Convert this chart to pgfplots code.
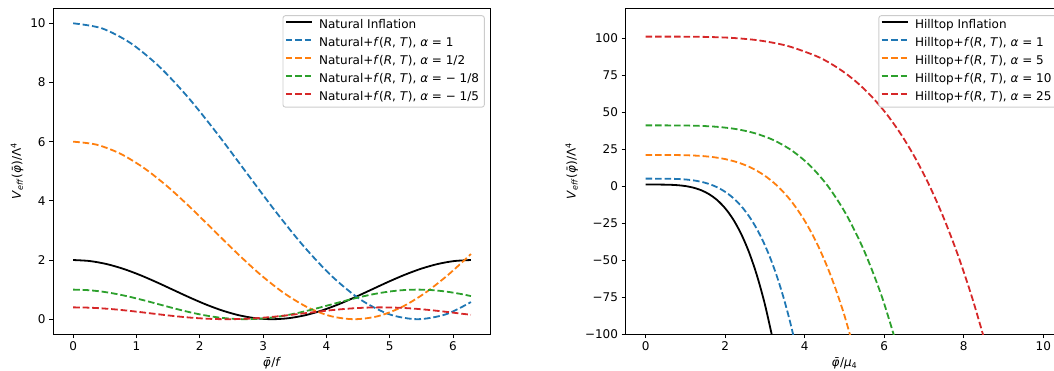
\documentclass[border=0pt]{standalone}
\usepackage{fontspec}
\setmainfont{DejaVu Sans}
\usepackage{pgfplots}
\pgfplotsset{compat=1.18}
\definecolor{c0}{HTML}{1F77B4}
\definecolor{c1}{HTML}{FF7F0E}
\definecolor{c2}{HTML}{2CA02C}
\definecolor{c3}{HTML}{D62728}
\tikzset{mpldash/.style={dash pattern=on 6.6pt off 2.9pt}}
\pgfplotsset{mpl/.style={
  scale only axis, width=437.5pt, height=325.5pt, anchor=south west,
  tick align=outside, xtick pos=bottom, ytick pos=left,
  major tick length=4.2pt,
  every tick/.style={black, line width=0.96pt},
  axis line style={line width=0.96pt},
  /pgf/number format/assume math mode=true,
  tick label style={font=\fontsize{12}{14}\selectfont},
  label style={font=\fontsize{12}{14}\selectfont},
  legend cell align=left,
  legend style={at={(1,1)}, anchor=north east, xshift=-6pt, yshift=-6.7pt,
    draw=black!20, line width=0.9pt, rounded corners=2.5pt, fill=white,
    font=\fontsize{12}{14}\selectfont, inner xsep=2pt, inner ysep=1pt, row sep=0pt,
    nodes={inner xsep=3.3pt, inner ysep=2.95pt, text height=9pt, text depth=3pt},
    /tikz/every odd column/.append style={column sep=3.1pt}},
  legend image code/.code={\draw[#1] (0pt,3.5pt) -- (26pt,3.5pt);},
  every axis plot/.append style={line width=1.8pt},
}}
\begin{document}
\begin{tikzpicture}
\begin{axis}[mpl, at={(53.3pt,36pt)},
  xmin=-0.3142, xmax=6.5973, ymin=-0.5, ymax=10.5,
  xtick={0,1,2,3,4,5,6}, ytick={0,2,4,6,8,10},
  xlabel={\textit{φ^^^^0304}/\textit{f}},
  ylabel={\textit{V}\textsubscript{\textit{eff}}(\textit{φ^^^^0304})/Λ\textsuperscript{4}},
]
\addplot[black, smooth] coordinates {(0,2) (0.2618,1.9659) (0.5236,1.8660) (0.7854,1.7071) (1.0472,1.5) (1.3090,1.2588) (1.5708,1) (1.8326,0.7412) (2.0944,0.5) (2.3562,0.2929) (2.6180,0.1340) (2.8798,0.0341) (3.1416,0) (3.4034,0.0341) (3.6652,0.1340) (3.9270,0.2929) (4.1888,0.5) (4.4506,0.7412) (4.7124,1) (4.9742,1.2588) (5.2360,1.5) (5.4978,1.7071) (5.7596,1.8660) (6.0214,1.9659) (6.2832,2)};
\addlegendentry{Natural Inflation}
\addplot[c0, mpldash, smooth] coordinates {(0,10) (0.4534,9.830) (0.9069,9.330) (1.3603,8.536) (1.8138,7.5) (2.2672,6.294) (2.7207,5) (3.1741,3.706) (3.6276,2.5) (4.0810,1.464) (4.5345,0.670) (4.9879,0.170) (5.4414,0) (5.8948,0.170) (6.2832,0.579)};
\addlegendentry{Natural+\textit{f}(\textit{R}, \textit{T}), \textit{α} = 1}
\addplot[c1, mpldash, smooth] coordinates {(0,6) (0.3702,5.898) (0.7405,5.598) (1.1107,5.121) (1.4810,4.5) (1.8512,3.776) (2.2214,3) (2.5917,2.224) (2.9619,1.5) (3.3322,0.879) (3.7024,0.402) (4.0726,0.102) (4.4429,0) (4.8131,0.102) (5.1834,0.402) (5.5536,0.879) (5.9238,1.5) (6.2832,2.201)};
\addlegendentry{Natural+\textit{f}(\textit{R}, \textit{T}), \textit{α} = 1/2}
\addplot[c2, mpldash, smooth] coordinates {(0,1) (0.2267,0.9830) (0.4535,0.9330) (0.6802,0.8536) (0.9069,0.75) (1.1336,0.6294) (1.3604,0.5) (1.5871,0.3706) (1.8138,0.25) (2.0405,0.1464) (2.2673,0.0670) (2.4940,0.0170) (2.7207,0) (2.9474,0.0170) (3.1742,0.0670) (3.4009,0.1464) (3.6276,0.25) (3.8543,0.3706) (4.0811,0.5) (4.3078,0.6294) (4.5345,0.75) (4.7612,0.8536) (4.9880,0.9330) (5.2147,0.9830) (5.4414,1) (5.6681,0.9830) (5.8949,0.9330) (6.1216,0.8536) (6.2832,0.7818)};
\addlegendentry{Natural+\textit{f}(\textit{R}, \textit{T}), \textit{α} = − 1/8}
\addplot[c3, mpldash, smooth] coordinates {(0,0.4) (0.2028,0.3932) (0.4056,0.3732) (0.6084,0.3414) (0.8112,0.3) (1.0139,0.2518) (1.2167,0.2) (1.4195,0.1482) (1.6223,0.1) (1.8251,0.0586) (2.0279,0.0268) (2.2307,0.0068) (2.4335,0) (2.6363,0.0068) (2.8390,0.0268) (3.0418,0.0586) (3.2446,0.1) (3.4474,0.1482) (3.6502,0.2) (3.8530,0.2518) (4.0558,0.3) (4.2586,0.3414) (4.4614,0.3732) (4.6641,0.3932) (4.8669,0.4) (5.0697,0.3932) (5.2725,0.3732) (5.4753,0.3414) (5.6781,0.3) (5.8809,0.2518) (6.0837,0.2) (6.2832,0.1490)};
\addlegendentry{Natural+\textit{f}(\textit{R}, \textit{T}), \textit{α} = − 1/5}
\end{axis}
\begin{axis}[mpl, at={(625.7pt,36pt)},
  xmin=-0.5, xmax=10.5, ymin=-100, ymax=120,
  xtick={0,2,4,6,8,10}, ytick={-100,-75,-50,-25,0,25,50,75,100},
  yticklabels={−100,−75,−50,−25,0,25,50,75,100},
  xlabel={\textit{φ^^^^0304}/\textit{μ}\textsubscript{4}},
  ylabel={\textit{V}\textsubscript{\textit{eff}}(\textit{φ^^^^0304})/Λ\textsuperscript{4}},
]
\addplot[black, smooth] coordinates {(0,1) (0.2,0.9984) (0.4,0.9744) (0.6,0.8704) (0.8,0.5904) (1.0,0) (1.2,-1.0736) (1.4,-2.8416) (1.6,-5.5536) (1.8,-9.4976) (2.0,-15) (2.2,-22.4256) (2.4,-32.1776) (2.6,-44.6976) (2.8,-60.4656) (3.0,-80) (3.2,-103.8576)};
\addlegendentry{Hilltop Inflation}
\addplot[c0, mpldash, smooth] coordinates {(0,5) (0.1732,4.9995) (0.3464,4.992) (0.5196,4.9595) (0.6928,4.872) (0.8660,4.6875) (1.0392,4.352) (1.2124,3.7995) (1.3856,2.952) (1.5588,1.7195) (1.7321,0) (1.9053,-2.3205) (2.0785,-5.368) (2.2517,-9.2805) (2.4249,-14.208) (2.5981,-20.3125) (2.7713,-27.768) (2.9445,-36.7605) (3.1177,-47.488) (3.2909,-60.1605) (3.4641,-75) (3.6373,-92.2405) (3.8105,-112.128)};
\addlegendentry{Hilltop+\textit{f}(\textit{R}, \textit{T}), \textit{α} = 1}
\addplot[c1, mpldash, smooth] coordinates {(0,21) (0.3317,20.9979) (0.6633,20.9664) (0.9950,20.8299) (1.3266,20.4624) (1.6583,19.6875) (1.9900,18.2784) (2.3216,15.9579) (2.6533,12.3984) (2.9850,7.2219) (3.3166,0) (3.6483,-9.7461) (3.9799,-22.5456) (4.3116,-38.9781) (4.6433,-59.6736) (4.9749,-85.3125) (5.3066,-116.6256)};
\addlegendentry{Hilltop+\textit{f}(\textit{R}, \textit{T}), \textit{α} = 5}
\addplot[c2, mpldash, smooth] coordinates {(0,41) (0.4583,40.9959) (0.9165,40.9344) (1.3748,40.6679) (1.8330,39.9504) (2.2913,38.4375) (2.7495,35.6864) (3.2078,31.1559) (3.6661,24.2064) (4.1243,14.1001) (4.5826,0) (5.0408,-19.0281) (5.4991,-44.0176) (5.9574,-76.1001) (6.4156,-116.5056)};
\addlegendentry{Hilltop+\textit{f}(\textit{R}, \textit{T}), \textit{α} = 10}
\addplot[c3, mpldash, smooth] coordinates {(0,101) (0.7141,100.9899) (1.4283,100.8384) (2.1424,100.1819) (2.8566,98.4144) (3.5707,94.6875) (4.2849,87.9104) (4.6419,82.971) (4.9990,76.7499) (5.3561,69.043) (5.7131,59.6304) (6.0702,48.277) (6.4273,34.7339) (6.7844,18.735) (7.1414,0) (7.4985,-21.766) (7.8556,-46.8741) (8.2126,-75.6497) (8.5697,-108.4336)};
\addlegendentry{Hilltop+\textit{f}(\textit{R}, \textit{T}), \textit{α} = 25}
\end{axis}
\pgfresetboundingbox
\useasboundingbox (0,0) rectangle (1054pt,370pt);
\end{tikzpicture}
\end{document}
